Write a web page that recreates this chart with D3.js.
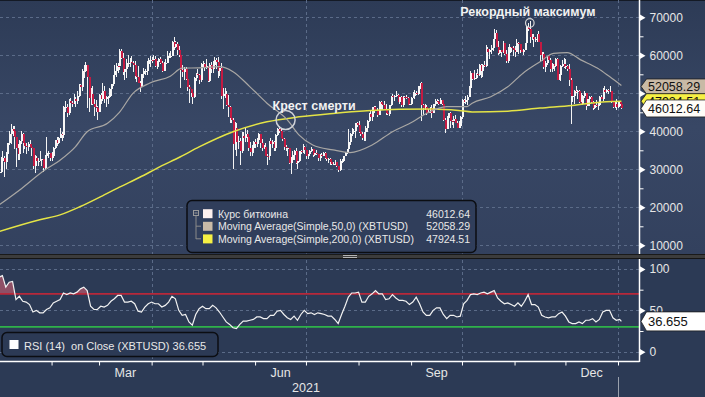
<!DOCTYPE html>
<html>
<head>
<meta charset="utf-8">
<script src="https://cdn.jsdelivr.net/npm/d3@7/dist/d3.min.js"></script>
<style>
  html, body { margin: 0; padding: 0; background: #2c3a55; overflow: hidden; }
  svg { display: block; font-family: "Liberation Sans", Arial, sans-serif; }
</style>
</head>
<body>
<svg id="chart"></svg>
<script>
// XBTUSD daily candles, thousands of USD, one per day from startDate
const startDate = "2021-01-01";
const firstOpen = 29.0;
const closes = [
  29.4,32.1,33.0,32.0,34.0,36.8,39.4,40.7,40.2,38.4,35.5,34.0,37.4,39.2,36.8,36.2,35.8,36.6,36.0,35.5,30.8,33.0,32.1,32.3,32.4,32.6,30.4,33.5,34.3,34.3,33.1,
  33.5,35.5,37.7,36.9,38.3,39.3,38.9,46.4,46.5,44.9,48.0,47.4,47.2,48.6,47.9,49.2,52.1,51.6,55.9,55.9,57.5,54.2,48.8,49.7,47.1,46.3,46.2,45.1,
  49.6,48.4,50.5,48.4,48.9,48.9,51.2,52.4,54.9,55.9,57.3,57.2,61.2,59.2,55.6,56.4,58.0,58.0,58.3,58.1,57.4,54.5,54.2,52.8,51.7,55.0,55.8,55.8,57.6,58.8,58.8,
  58.7,59.0,57.1,58.2,59.1,58.0,56.0,58.1,58.1,59.8,59.8,59.9,63.5,62.3,63.1,61.3,60.0,56.2,55.7,56.5,53.8,51.7,51.1,50.0,49.0,54.0,55.0,54.8,53.6,57.8,
  57.8,56.6,57.2,53.3,57.4,56.4,57.4,58.8,58.2,55.9,56.7,49.2,49.7,49.9,46.8,46.4,43.5,42.9,36.7,40.8,37.3,37.5,34.8,38.8,38.3,39.2,38.4,35.7,34.6,35.7,37.3,
  36.7,37.6,39.2,36.9,35.5,35.8,33.6,33.4,37.4,36.7,37.3,35.6,39.1,40.5,40.2,38.3,38.1,35.8,35.5,35.6,31.7,32.5,33.7,34.7,31.6,32.2,34.7,34.5,35.9,35.0,
  33.6,33.9,34.7,35.3,33.7,34.2,33.9,32.9,33.8,33.5,34.3,33.1,32.7,32.8,31.9,31.5,31.5,31.8,30.8,29.8,32.1,32.3,33.6,34.3,35.4,37.3,39.4,40.0,40.0,42.2,41.6,
  39.9,39.2,38.2,39.7,40.9,42.8,44.6,43.8,46.3,45.6,45.6,44.4,47.8,47.1,47.0,45.9,44.7,44.6,46.8,49.3,48.9,49.3,49.5,47.7,48.9,47.0,49.1,48.9,48.8,47.0,47.2,
  48.8,49.3,50.0,49.9,51.8,52.7,46.8,46.1,46.4,44.8,45.2,46.1,44.9,47.1,48.1,47.8,47.3,48.3,47.3,43.0,40.7,43.6,44.9,42.8,42.7,43.2,42.2,41.0,41.5,43.8,
  48.2,47.8,48.2,49.1,51.5,55.3,53.8,53.9,55.0,54.7,57.5,56.0,57.4,57.3,61.7,60.9,61.5,62.0,64.3,66.0,62.2,60.7,61.4,60.9,63.2,60.3,58.5,60.6,62.2,61.9,61.3,
  61.0,63.2,62.9,61.4,61.0,61.5,63.3,67.5,66.9,64.9,64.9,64.2,64.4,65.5,63.6,60.2,60.4,56.9,58.1,59.7,58.7,56.3,57.6,57.2,58.9,53.6,54.8,57.3,57.8,57.0,
  57.2,56.5,53.6,49.2,49.4,50.6,50.5,50.6,47.7,47.1,49.3,50.1,46.7,48.4,48.9,47.6,46.2,46.8,46.7,46.9,49.0,48.6,50.8,50.4,50.8,50.6,50.6,47.6,46.5,47.1,46.3,
  47.7,47.3,46.01264
];
const highs = [
  29.6,33.3,34.8,33.6,34.5,36.9,40.2,41.9,41.4,41.4,38.3,36.6,37.8,40.0,39.6,37.8,36.8,37.3,37.8,36.4,35.6,33.8,33.4,32.9,34.8,32.8,32.6,33.8,38.4,34.9,34.3,
  34.6,35.9,37.8,38.6,38.6,40.9,39.7,46.7,48.0,47.2,48.5,48.8,48.0,49.7,49.0,50.5,52.5,52.5,56.3,57.5,58.3,57.5,54.2,51.3,52.0,48.4,48.3,46.6,
  49.8,50.1,52.6,51.8,49.4,49.2,51.4,52.4,54.9,57.4,58.0,58.0,61.7,61.6,60.6,56.9,58.9,60.1,59.4,59.8,58.6,58.4,55.8,57.2,53.2,55.0,56.6,56.5,58.4,59.4,59.8,
  59.5,60.1,59.8,58.5,59.3,59.5,58.6,58.2,58.9,61.2,60.7,61.2,63.7,64.9,63.8,63.6,62.5,60.4,57.5,57.0,56.8,55.4,52.1,51.1,50.5,54.3,55.4,56.4,55.2,57.9,
  58.4,57.9,58.9,57.2,57.9,58.3,58.6,59.5,59.2,59.5,56.8,57.9,51.3,51.4,50.6,49.6,46.6,45.7,43.5,42.5,42.2,38.8,38.2,39.8,39.7,40.8,40.3,38.4,37.3,36.4,37.5,
  37.9,38.2,39.5,39.2,37.9,36.4,36.8,34.0,37.5,38.3,37.7,37.4,39.3,41.0,41.3,40.5,39.5,38.2,36.4,36.0,35.7,33.3,34.8,35.2,35.5,32.6,34.7,35.2,36.6,36.1,
  35.0,33.9,35.0,35.9,35.3,35.0,35.0,33.9,34.0,34.3,34.6,34.6,33.3,33.1,33.1,32.3,31.9,32.4,31.8,31.0,32.8,32.6,33.6,34.5,35.4,40.5,39.5,40.9,40.6,42.3,42.4,
  42.6,40.4,39.7,39.9,41.3,43.0,44.7,45.3,46.4,46.6,46.7,46.2,47.9,48.1,47.4,48.0,47.1,46.0,47.0,49.4,49.8,49.5,50.5,49.8,49.2,49.3,49.2,49.3,49.6,48.9,48.2,
  48.9,50.4,51.0,50.5,51.9,52.8,52.9,47.3,47.3,47.0,45.9,46.4,46.8,47.2,48.4,48.5,48.2,48.8,48.3,47.3,43.6,44.0,44.9,45.0,42.9,43.9,44.3,42.8,42.6,44.1,
  48.4,48.4,49.2,49.5,51.9,55.8,55.3,56.1,55.4,56.5,57.8,57.6,57.7,58.5,62.8,62.3,61.6,62.6,64.4,67.0,66.6,63.7,61.5,61.4,63.7,63.3,61.4,62.2,62.9,62.3,62.4,
  62.4,64.3,63.5,63.0,62.6,61.6,63.3,67.8,68.5,69.0,65.6,65.5,64.9,65.5,66.3,63.6,60.8,60.9,58.4,59.9,60.0,59.3,58.0,57.8,59.4,59.2,55.2,57.4,58.8,59.2,
  59.1,57.4,57.6,53.9,49.7,50.9,51.9,51.0,50.8,50.0,49.5,50.7,50.2,48.6,49.3,49.4,47.9,47.3,48.3,47.5,49.3,49.5,51.3,51.8,51.2,51.1,52.0,50.7,48.1,47.9,48.5,
  47.9,47.9,47.5
];
const lows = [
  28.8,29.0,32.0,28.1,30.2,33.5,36.3,36.6,38.7,35.4,30.5,32.5,32.4,36.7,34.4,35.4,33.9,34.9,35.8,33.4,30.1,28.9,31.4,31.0,32.1,30.9,29.2,30.0,31.9,32.9,32.2,
  32.3,33.4,35.4,36.2,36.7,38.2,37.4,38.2,45.2,43.8,44.3,46.4,46.4,47.1,46.3,47.1,48.9,50.9,50.7,54.1,55.5,46.1,45.0,47.0,47.0,44.1,45.1,43.0,
  45.0,47.2,48.1,47.5,46.3,47.1,48.9,49.3,51.9,53.1,54.3,55.4,56.1,59.1,54.7,53.6,54.1,57.0,56.9,57.9,55.5,53.7,53.1,52.6,50.4,51.6,54.1,54.8,54.9,57.1,57.0,
  57.9,58.5,56.9,56.5,56.8,57.7,55.5,55.9,57.7,58.0,59.2,59.4,59.9,61.3,62.0,60.0,59.6,51.5,54.2,53.5,53.6,50.6,47.5,48.9,47.1,48.8,53.3,53.9,52.4,53.1,
  57.0,56.0,56.5,53.1,52.9,55.3,55.4,56.9,56.3,54.0,54.6,48.6,46.0,48.8,46.6,43.8,42.1,42.3,30.1,35.0,33.5,35.3,31.1,34.4,36.4,37.3,37.2,34.7,33.6,33.4,34.2,
  35.7,35.9,37.2,35.6,34.8,35.3,33.4,31.1,32.4,35.8,35.7,34.7,34.8,38.8,39.5,38.2,37.4,35.2,34.9,33.4,31.3,28.8,31.8,32.4,31.3,30.2,32.0,33.9,34.3,34.0,
  32.8,32.7,33.5,34.5,33.2,33.5,33.8,32.1,32.3,33.1,33.4,32.7,32.3,31.6,31.2,31.2,31.2,31.2,30.5,29.4,29.5,31.7,32.0,33.4,33.9,35.3,36.4,38.8,39.3,38.3,41.1,
  39.5,38.7,37.6,37.5,37.4,39.9,42.5,43.3,42.8,44.8,45.4,43.8,44.3,45.6,45.6,45.7,44.4,44.3,43.9,46.6,48.4,48.1,49.0,47.6,47.2,46.5,46.5,48.5,48.4,46.9,46.8,
  46.8,48.7,48.6,49.5,49.5,51.1,42.8,44.4,45.6,44.2,44.8,44.8,43.4,44.8,46.7,47.1,46.8,47.1,46.9,42.6,39.6,40.6,43.1,40.8,41.7,40.8,42.1,40.9,40.8,41.4,
  43.3,47.4,47.1,46.9,49.1,50.4,53.4,53.6,53.7,54.2,54.5,54.0,54.3,56.9,56.9,60.3,59.0,60.4,61.1,63.5,62.1,60.0,60.4,59.6,60.7,60.1,58.0,58.1,60.2,60.8,59.9,
  59.5,60.8,60.4,60.7,60.8,60.1,61.4,63.2,66.3,63.3,64.1,62.3,63.4,63.6,63.5,58.6,58.4,56.5,55.6,57.5,58.6,55.7,55.5,55.9,57.0,53.6,53.6,53.3,56.8,56.6,
  56.5,55.9,52.0,42.0,47.8,47.1,50.0,48.6,47.4,46.9,46.9,48.7,45.7,46.6,46.6,47.5,45.5,45.9,46.5,45.6,46.7,48.5,48.1,50.4,50.2,49.9,50.5,47.4,46.2,46.1,45.7,
  46.2,46.7,45.8
];

// moving averages
const ma50Dates = ["2021-01-01","2021-01-13","2021-01-28","2021-02-06","2021-02-15","2021-02-22","2021-03-06","2021-03-13","2021-03-21","2021-03-31",
  "2021-04-12","2021-04-19","2021-04-29","2021-05-11","2021-05-19","2021-05-29","2021-06-08","2021-06-20","2021-06-27","2021-07-05",
  "2021-07-17","2021-07-27","2021-08-09","2021-08-21","2021-09-02","2021-09-10","2021-09-22","2021-10-04","2021-10-07","2021-10-18",
  "2021-10-28","2021-11-06","2021-11-16","2021-11-24","2021-12-02","2021-12-10","2021-12-20","2021-12-27","2022-01-03"];
const ma50Values = [20600,24500,29800,32400,35900,39900,42100,45000,50000,52700,
  54500,56600,56700,57000,55700,51700,47400,43000,39000,36400,
  35100,34400,36400,39900,42500,44700,46500,46500,47400,49100,
  51700,55300,58300,60500,60700,58800,56600,54400,52058.29];
const ma200Dates = ["2021-01-01","2021-01-25","2021-02-06","2021-02-18","2021-03-02","2021-03-13","2021-03-25","2021-04-06","2021-04-18","2021-04-29",
  "2021-05-19","2021-06-08","2021-06-27","2021-07-17","2021-08-06","2021-08-25","2021-09-14","2021-09-29","2021-10-07","2021-10-28",
  "2021-11-16","2021-12-05","2021-12-25","2022-01-03"];
const ma200Values = [13600,16700,18000,20200,22800,25300,27900,30700,33300,35900,
  39900,42500,43800,44700,45400,45800,45900,45500,45100,45300,
  46100,46800,47800,47924.51];

// RSI(14), read every second day from startDate
const rsiValues = [
  90,92,78,84,85,63,67,61,60,57,48,50,47,47,51,53,59,61,63,71,
  69,71,70,72,76,78,74,55,51,51,55,54,56,61,64,68,68,60,60,61,
  58,49,48,54,58,60,58,58,54,56,60,67,64,50,44,45,36,32,45,52,
  55,52,52,56,53,48,42,36,33,29,28,33,37,37,38,39,42,42,40,40,
  44,44,49,50,45,41,39,43,38,45,50,46,47,45,47,46,45,43,43,39,
  34,45,55,66,71,71,72,60,60,67,70,74,70,70,63,64,69,65,62,62,
  61,57,60,66,58,48,44,44,50,53,53,45,40,44,44,42,43,58,62,69,
  70,69,71,72,70,72,74,65,61,58,59,57,55,59,55,61,69,57,57,54,
  44,42,41,42,42,46,48,43,36,34,34,36,34,38,38,40,36,39,48,50,
  50,41,38,39
];
const lastDate = "2022-01-03";
const rsiLast = 36.655;

const priceTicks = [10000, 20000, 30000, 40000, 50000, 60000, 70000];
const priceMinor = [15000, 25000, 35000, 45000, 55000, 65000];
const rsiTicks = [0, 50, 100];
const rsiMinor = [25, 75];
const rsiBands = [30, 70];
const quarterDates = ["2021-04-01", "2021-07-01", "2021-10-01", "2022-01-01"];
const monthLabels = ["Mar", "Jun", "Sep", "Dec"];
const monthLabelDates = ["2021-03-01", "2021-06-01", "2021-09-01", "2021-12-01"];
const yearLabel = "2021";
const legendLabels = ["Курс биткоина", "Moving Average(Simple,50,0) (XBTUSD)", "Moving Average(Simple,200,0) (XBTUSD)"];
const legendColors = ["#fdf0ee", "#c9baa6", "#f6f044"];
const rsiLegend = "RSI (14)  on Close (XBTUSD)";
const recordLabel = "Рекордный максимум";
const recordDate = "2021-11-10", recordValue = 68500;
const crossLabel = "Крест смерти";
const crossDate = "2021-06-19", crossValue = 43000;

const W = 705, H = 397;
const font = '"Liberation Sans", Arial, sans-serif';
const parse = d3.utcParse("%Y-%m-%d");
const t0 = parse(startDate);

const candles = closes.map((c, i) => ({
  date: d3.utcDay.offset(t0, i),
  open: (i ? closes[i - 1] : firstOpen) * 1000,
  close: c * 1000,
  high: highs[i] * 1000,
  low: lows[i] * 1000
}));
const ma50 = ma50Dates.map((d, i) => ({ date: parse(d), v: ma50Values[i] }));
const ma200 = ma200Dates.map((d, i) => ({ date: parse(d), v: ma200Values[i] }));
const rsi = rsiValues.map((v, i) => ({ date: d3.utcDay.offset(t0, 2 * i), v }))
  .concat([{ date: parse(lastDate), v: rsiLast }]);

const axisX = 639.5;
const x = d3.scaleUtc().domain([parse("2021-01-01"), parse("2022-01-01")]).range([-1, 618]);
const y = d3.scaleLinear().domain([10000, 70000]).range([245.3, 17.3]);
const yR = d3.scaleLinear().domain([0, 100]).range([351.7, 269]);

const svg = d3.select("#chart").attr("width", W).attr("height", H);
const defs = svg.append("defs");

const grad = defs.append("linearGradient").attr("id", "bgMain")
  .attr("x1", 0).attr("y1", 0).attr("x2", 0).attr("y2", 1);
grad.append("stop").attr("offset", "0%").attr("stop-color", "#2d3b56");
grad.append("stop").attr("offset", "50%").attr("stop-color", "#384765");
grad.append("stop").attr("offset", "100%").attr("stop-color", "#33415e");

defs.append("clipPath").attr("id", "clipMain")
  .append("rect").attr("x", 0).attr("y", 0).attr("width", axisX).attr("height", 254);
defs.append("clipPath").attr("id", "clipRsi")
  .append("rect").attr("x", 0).attr("y", 259).attr("width", axisX).attr("height", 102);
defs.append("clipPath").attr("id", "clipHigh")
  .append("rect").attr("x", 0).attr("y", 259).attr("width", axisX).attr("height", yR(70) - 259);
defs.append("clipPath").attr("id", "clipLow")
  .append("rect").attr("x", 0).attr("y", yR(30)).attr("width", axisX).attr("height", 361 - yR(30));

// backgrounds
svg.append("rect").attr("width", W).attr("height", H).attr("fill", "#2c3a55");
svg.append("rect").attr("width", W).attr("height", 254).attr("fill", "url(#bgMain)");
svg.append("rect").attr("width", W).attr("height", 1).attr("fill", "#141a25");

// grid
const grid = svg.append("g").attr("stroke", "#5b6b88").attr("stroke-dasharray", "3,3").attr("stroke-width", 1);
grid.selectAll(".hp").data(priceTicks).join("line")
  .attr("x1", 0).attr("x2", axisX).attr("y1", d => Math.round(y(d)) + 0.5).attr("y2", d => Math.round(y(d)) + 0.5);
grid.selectAll(".hr").data(rsiTicks).join("line")
  .attr("x1", 0).attr("x2", axisX).attr("y1", d => Math.round(yR(d)) + 0.5).attr("y2", d => Math.round(yR(d)) + 0.5);
quarterDates.forEach(q => {
  const qx = Math.round(x(parse(q))) + 0.5;
  grid.append("line").attr("x1", qx).attr("x2", qx).attr("y1", 0).attr("y2", 254);
  grid.append("line").attr("x1", qx).attr("x2", qx).attr("y1", 260).attr("y2", 361);
});

// candles
const gc = svg.append("g").attr("clip-path", "url(#clipMain)").attr("shape-rendering", "crispEdges");
gc.selectAll("line").data(candles).join("line")
  .attr("x1", d => Math.round(x(d.date)) + 0.5).attr("x2", d => Math.round(x(d.date)) + 0.5)
  .attr("y1", d => y(d.high)).attr("y2", d => y(d.low))
  .attr("stroke", "#f4f4f4").attr("stroke-width", 1);
gc.selectAll("rect").data(candles).join("rect")
  .attr("x", d => Math.round(x(d.date)))
  .attr("width", 2)
  .attr("y", d => y(Math.max(d.open, d.close)))
  .attr("height", d => Math.max(1, Math.abs(y(d.open) - y(d.close))))
  .attr("fill", d => d.close >= d.open ? "#f7f7f7" : "#c41a42");

// moving averages
const maLine = d3.line().x(d => x(d.date)).y(d => y(d.v)).curve(d3.curveMonotoneX);
const gm = svg.append("g").attr("clip-path", "url(#clipMain)").attr("fill", "none");
gm.append("path").datum(ma200).attr("d", maLine).attr("stroke", "#e4e446").attr("stroke-width", 1.5);
gm.append("path").datum(ma50).attr("d", maLine).attr("stroke", "#a9a7a4").attr("stroke-width", 1.2);

// annotations
const rx = x(parse(recordDate)), ry = y(recordValue);
svg.append("circle").attr("cx", rx).attr("cy", ry).attr("r", 4.3)
  .attr("fill", "none").attr("stroke", "#d6d6d6").attr("stroke-width", 1.2);
svg.append("text").attr("x", rx - 2).attr("y", 15.7).attr("text-anchor", "middle")
  .attr("fill", "#f2f2f2").attr("font-weight", "bold").attr("font-size", 12.5).text(recordLabel);
const cx = x(parse(crossDate)), cy = y(crossValue);
svg.append("circle").attr("cx", cx).attr("cy", cy).attr("r", 9.5)
  .attr("fill", "none").attr("stroke", "#cfd2d8").attr("stroke-width", 1.5);
svg.append("text").attr("x", cx - 13).attr("y", cy - 10)
  .attr("fill", "#f2f2f2").attr("font-weight", "bold").attr("font-size", 12.5).text(crossLabel);

// legend
const lg = svg.append("g");
lg.append("rect").attr("x", 187).attr("y", 200.5).attr("width", 289).attr("height", 52).attr("rx", 5)
  .attr("fill", "#303e5b").attr("stroke", "#0b0d12").attr("stroke-width", 1.5);
lg.append("rect").attr("x", 193.5).attr("y", 210.5).attr("width", 5).attr("height", 5)
  .attr("fill", "none").attr("stroke", "#9a9a9a");
lg.append("line").attr("x1", 194.5).attr("x2", 197.5).attr("y1", 213).attr("y2", 213).attr("stroke", "#9a9a9a");
lg.append("path").attr("d", "M196,216V239M196,226.2H201M196,238.8H201").attr("fill", "none").attr("stroke", "#8a8a8a");
const legendValues = [closes[closes.length - 1] * 1000, ma50Values[ma50Values.length - 1], ma200Values[ma200Values.length - 1]];
legendLabels.forEach((lbl, i) => {
  const cyRow = 213.7 + i * 12.6;
  lg.append("rect").attr("x", 203).attr("y", cyRow - 4.5).attr("width", 9.5).attr("height", 9)
    .attr("fill", legendColors[i]);
  lg.append("text").attr("x", 218).attr("y", cyRow + 4).attr("fill", "#e8e8e8").attr("font-size", 10.5).text(lbl);
  lg.append("text").attr("x", 470).attr("y", cyRow + 4).attr("text-anchor", "end")
    .attr("fill", "#e8e8e8").attr("font-size", 10.5).text(d3.format(".2f")(legendValues[i]));
});

// separator between panels
svg.append("rect").attr("x", 0).attr("y", 254).attr("width", W).attr("height", 5).attr("fill", "#3c3c3c");
svg.append("rect").attr("x", 0).attr("y", 254).attr("width", W).attr("height", 1).attr("fill", "#1a1a1a");
svg.append("rect").attr("x", 0).attr("y", 258).attr("width", W).attr("height", 1).attr("fill", "#151515");
svg.append("path").attr("d", "M343,255.5H357M343,257.5H357").attr("stroke", "#b4b4b4").attr("stroke-width", 1);

// RSI panel
const gr = svg.append("g").attr("clip-path", "url(#clipRsi)");
const rsiLine = d3.line().x(d => x(d.date)).y(d => yR(d.v));
gr.append("path").datum(rsi).attr("clip-path", "url(#clipHigh)")
  .attr("d", d3.area().x(d => x(d.date)).y0(yR(70)).y1(d => yR(d.v)))
  .attr("fill", "#a9566a").attr("opacity", 0.8);
gr.append("path").datum(rsi).attr("clip-path", "url(#clipLow)")
  .attr("d", d3.area().x(d => x(d.date)).y0(yR(30)).y1(d => yR(d.v)))
  .attr("fill", "#4c9a60").attr("opacity", 0.8);
gr.selectAll(".band").data(rsiBands).join("line")
  .attr("x1", 0).attr("x2", axisX).attr("y1", d => yR(d)).attr("y2", d => yR(d))
  .attr("stroke", d => d === 70 ? "#b8283a" : "#2fb24a").attr("stroke-width", 1.8);
gr.append("path").datum(rsi).attr("d", rsiLine).attr("fill", "none")
  .attr("stroke", "#f2f2f2").attr("stroke-width", 1.2);

const rl = svg.append("g");
rl.append("rect").attr("x", 2).attr("y", 332.5).attr("width", 216).attr("height", 24).attr("rx", 5)
  .attr("fill", "#2c3a55").attr("stroke", "#0b0d12").attr("stroke-width", 1.5);
rl.append("rect").attr("x", 9.5).attr("y", 340).attr("width", 9).attr("height", 9).attr("fill", "#ffffff");
rl.append("text").attr("x", 24).attr("y", 349.5).attr("fill", "#e8e8e8").attr("font-size", 11)
  .style("white-space", "pre").text(rsiLegend + " " + d3.format(".3f")(rsiLast));

// right axes
function styleAxis(g) {
  g.select(".domain").remove();
  g.attr("font-family", font);
  g.selectAll(".tick text").attr("fill", "#e6e6e6");
  g.selectAll(".tick line").attr("stroke", "#ffffff");
}
const gp = svg.append("g").attr("transform", `translate(${axisX},0)`)
  .call(d3.axisRight(y).tickValues(priceTicks).tickSize(0).tickPadding(10).tickFormat(d3.format("d")))
  .call(styleAxis).attr("font-size", 12);
gp.selectAll(".tick").append("path").attr("d", "M0,-3.5L6,0L0,3.5Z").attr("fill", "#ffffff");
svg.append("g").attr("transform", `translate(${axisX},0)`)
  .call(d3.axisRight(y).tickValues(priceMinor).tickSize(4).tickFormat(""))
  .call(styleAxis);
const gra = svg.append("g").attr("transform", `translate(${axisX},0)`)
  .call(d3.axisRight(yR).tickValues(rsiTicks).tickSize(0).tickPadding(10).tickFormat(d3.format("d")))
  .call(styleAxis).attr("font-size", 12);
gra.selectAll(".tick").append("path").attr("d", "M0,-3.5L6,0L0,3.5Z").attr("fill", "#ffffff");
svg.append("g").attr("transform", `translate(${axisX},0)`)
  .call(d3.axisRight(yR).tickValues(rsiMinor).tickSize(4).tickFormat(""))
  .call(styleAxis);
svg.append("line").attr("x1", axisX).attr("x2", axisX).attr("y1", 0).attr("y2", 254)
  .attr("stroke", "#ffffff").attr("stroke-width", 1.5);
svg.append("line").attr("x1", axisX).attr("x2", axisX).attr("y1", 259).attr("y2", 362)
  .attr("stroke", "#ffffff").attr("stroke-width", 1.5);

// last value tags
function tag(yv, label, fill, h, fs) {
  const g = svg.append("g");
  g.append("path")
    .attr("d", `M641,${yv}L646.5,${yv - h / 2}H706V${yv + h / 2}H646.5Z`)
    .attr("fill", fill).attr("stroke", "#1c1c1c").attr("stroke-width", 0.8);
  g.append("text").attr("x", 648).attr("y", yv).attr("dy", "0.35em")
    .attr("fill", "#111111").attr("font-size", fs).text(label);
}
tag(y(legendValues[1]) + 1, d3.format(".2f")(legendValues[1]), legendColors[1], 15, 12.5);
tag(y(legendValues[2]), d3.format(".2f")(legendValues[2]), legendColors[2], 15, 12.5);
tag(y(legendValues[0]), d3.format(".2f")(legendValues[0]), "#fffdf8", 17, 12.5);
tag(yR(rsiLast), d3.format(".3f")(rsiLast), "#ffffff", 19, 13);

// time axis
svg.append("line").attr("x1", 0).attr("x2", axisX).attr("y1", 361.5).attr("y2", 361.5)
  .attr("stroke", "#ffffff").attr("stroke-width", 1.5);
svg.append("g").attr("transform", "translate(0,361.5)")
  .call(d3.axisBottom(x).ticks(d3.utcMonth.every(1)).tickSize(4).tickFormat(""))
  .call(styleAxis);
monthLabelDates.forEach((d, i) => {
  const a = parse(d), b = d3.utcMonth.offset(a, 1);
  svg.append("text").attr("x", (x(a) + x(b)) / 2).attr("y", 376.5).attr("text-anchor", "middle")
    .attr("fill", "#e6e6e6").attr("font-size", 12.5).text(monthLabels[i]);
});
svg.append("text").attr("x", x(parse("2021-07-01"))).attr("y", 391.5).attr("text-anchor", "middle")
  .attr("fill", "#e6e6e6").attr("font-size", 12.5).text(yearLabel);
const yearEnd = Math.round(x(parse("2022-01-01"))) + 0.5;
svg.append("line").attr("x1", yearEnd).attr("x2", yearEnd).attr("y1", 377).attr("y2", H)
  .attr("stroke", "#9aa1ad").attr("stroke-width", 1);
</script>
</body>
</html>
